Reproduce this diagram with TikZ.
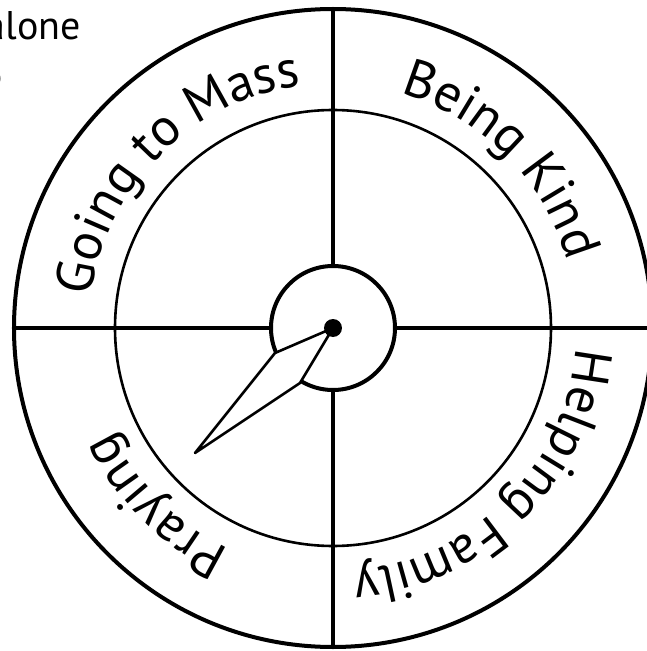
\documentclass[tikz,border=0pt]{standalone}
\usepackage{fontspec}
\setmainfont{PT Sans}
\usetikzlibrary{decorations.text}

\newcommand\ringfont{\fontsize{53}{58}\selectfont}

\begin{document}
\begin{tikzpicture}[x=1pt, y=1pt,
    ring/.style={circle, draw, inner sep=0pt},
    spoke/.style={line width=4pt},
    ringtext/.style={decorate, decoration={text along path, text align=center, text={|\ringfont|#1}}}]
    \useasboundingbox (-333,-323) rectangle (314,328);
    \clip (-333,-323) rectangle (314,328);
    % wheel
    \node (rim) [ring, line width=4pt, minimum size=638] at (0,0) {};
    \node (inner) [ring, line width=2.6pt, minimum size=436] at (0,0) {};
    \node (hub) [ring, line width=4pt, minimum size=124] at (0,0) {};
    \draw[spoke] (hub.north) -- (rim.north);
    \draw[spoke] (hub.south) -- (rim.south);
    \draw[spoke] (hub.west) -- (rim.west);
    \draw[spoke] (hub.east) -- (rim.east);
    % labels
    \path[ringtext={Going to Mass}] (180:244) arc[start angle=180, end angle=90, radius=244];
    \path[ringtext={Being Kind}] (90:244) arc[start angle=90, end angle=0, radius=244];
    \path[ringtext={Helping Family}] (0:244) arc[start angle=0, end angle=-90, radius=244];
    \path[ringtext={Praying}] (270:244) arc[start angle=270, end angle=180, radius=244];
    % pointer
    \coordinate (tip) at (-138,-125);
    \draw[line width=2.6pt, line join=round, fill=white]
        (hub.center) -- (-58,-25) -- (tip) -- (-33,-55) -- cycle;
    \fill (hub.center) circle[radius=9];
    % cut text at the corner
    \node (alone) [anchor=base east, font=\fontsize{40}{44}\selectfont, inner sep=0pt] at (-252,288) {alone};
    \node (cut) [anchor=base east, font=\fontsize{40}{44}\selectfont, inner sep=0pt] at (-330,236) {e};
\end{tikzpicture}
\end{document}
